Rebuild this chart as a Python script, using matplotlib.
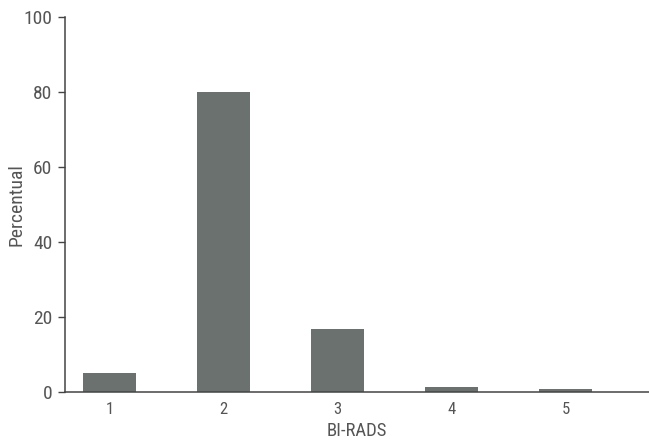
import matplotlib
matplotlib.use("Agg")
import matplotlib.pyplot as plt
from matplotlib import font_manager

categories = ["1", "2", "3", "4", "5"]
values = [5.1, 80.0, 16.8, 1.3, 0.7]
yticks = [0, 20, 40, 60, 80, 100]

names = {f.name for f in font_manager.fontManager.ttflist}
fam = []
for n in ["Liberation Sans Narrow", "Roboto Condensed", "Open Sans Condensed", "Roboto", "Liberation Sans"]:
    if n in names:
        fam.append(n)
        break
plt.rcParams['font.family'] = fam + ["DejaVu Sans"]

txt = "#555555"
fig = plt.figure(figsize=(6.49, 4.40), dpi=100)
ax = fig.add_axes([0.100, 0.109, 0.900, 0.852])
x = list(range(1, len(categories) + 1))
ax.bar(x, values, width=0.465, color="#6b716f", zorder=2)

ax.set_xlim(0.61, 5.73)
ax.set_ylim(0, 100)
ax.set_yticks(yticks)
ax.set_yticklabels([str(t) for t in yticks], fontsize=14, color=txt)
ax.set_xticks(x)
ax.set_xticklabels(categories, fontsize=12, color=txt)
ax.tick_params(axis='x', length=0, pad=7)
ax.tick_params(axis='y', length=5, width=1, color="#444444", pad=4)
for s in ["top", "right"]:
    ax.spines[s].set_visible(False)
for s in ["left", "bottom"]:
    ax.spines[s].set_color("#444444")
    ax.spines[s].set_linewidth(1.1)
ax.set_ylabel("Percentual", fontsize=14, color=txt)
ax.yaxis.set_label_coords(-0.067, 0.5)
ax.set_xlabel("BI-RADS", fontsize=13.5, color=txt, labelpad=4)

fig.savefig("out.png", dpi=100, facecolor="white")
